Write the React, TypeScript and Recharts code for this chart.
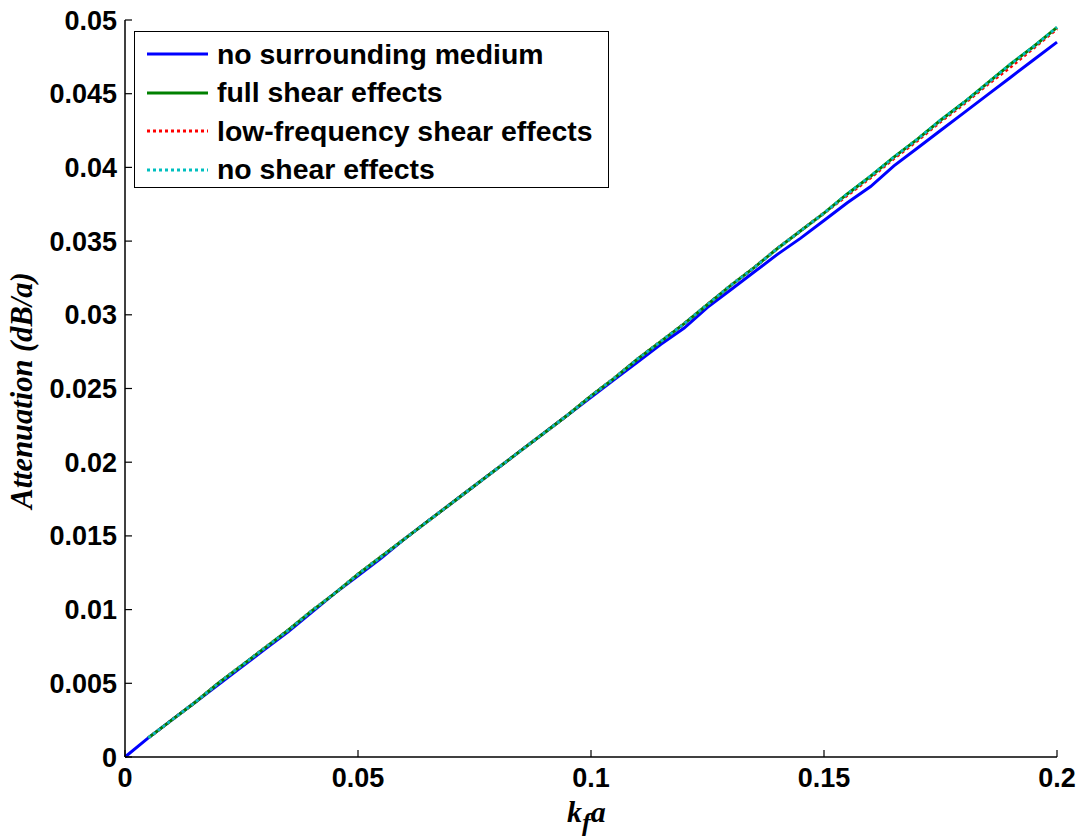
import React from 'react';
import { LineChart, Line, XAxis, YAxis, Legend } from 'recharts';

const kfa = [
  0, 0.005, 0.01, 0.015, 0.02, 0.025, 0.03, 0.035, 0.04, 0.045, 0.05,
  0.055, 0.06, 0.065, 0.07, 0.075, 0.08, 0.085, 0.09, 0.095, 0.1,
  0.105, 0.11, 0.115, 0.12, 0.125, 0.13, 0.135, 0.14, 0.145, 0.15,
  0.155, 0.16, 0.165, 0.17, 0.175, 0.18, 0.185, 0.19, 0.195, 0.2,
];

const noMedium = [
  0, 0.0013, 0.0025, 0.0037, 0.0049, 0.0061, 0.0073, 0.0085, 0.0098, 0.0111, 0.0123,
  0.0135, 0.0148, 0.016, 0.0172, 0.0184, 0.0196, 0.0208, 0.022, 0.0232, 0.0244,
  0.0256, 0.0268, 0.028, 0.0291, 0.0305, 0.0317, 0.0329, 0.0341, 0.0352, 0.0364,
  0.0376, 0.0387, 0.0401, 0.0413, 0.0425, 0.0437, 0.0449, 0.0461, 0.0473, 0.0485,
];

const fullShear = [
  null, 0.0013, 0.0025, 0.0037, 0.005, 0.0062, 0.0074, 0.0086, 0.0099, 0.0111, 0.0124,
  0.0136, 0.0148, 0.016, 0.0172, 0.0184, 0.0196, 0.0208, 0.022, 0.0232, 0.0245,
  0.0257, 0.027, 0.0282, 0.0294, 0.0307, 0.032, 0.0332, 0.0345, 0.0357, 0.0369,
  0.0382, 0.0394, 0.0407, 0.0419, 0.0432, 0.0444, 0.0457, 0.047, 0.0482, 0.0495,
];

const lowFreqShear = [
  null, 0.0013, 0.0025, 0.0037, 0.005, 0.0062, 0.0074, 0.0086, 0.0099, 0.0111, 0.0124,
  0.0136, 0.0148, 0.016, 0.0172, 0.0184, 0.0196, 0.0208, 0.022, 0.0232, 0.0245,
  0.0257, 0.027, 0.0282, 0.0294, 0.0307, 0.032, 0.0332, 0.0345, 0.0357, 0.0369,
  0.0381, 0.0393, 0.0406, 0.0418, 0.0431, 0.0443, 0.0456, 0.0468, 0.0481, 0.0494,
];

const noShear = [
  null, 0.0013, 0.0025, 0.0037, 0.005, 0.0062, 0.0074, 0.0086, 0.0099, 0.0111, 0.0124,
  0.0136, 0.0148, 0.016, 0.0172, 0.0184, 0.0196, 0.0208, 0.022, 0.0232, 0.0245,
  0.0257, 0.027, 0.0282, 0.0294, 0.0307, 0.032, 0.0332, 0.0345, 0.0357, 0.0369,
  0.0382, 0.0394, 0.0407, 0.0419, 0.0432, 0.0444, 0.0457, 0.047, 0.0482, 0.0495,
];

const xTicks = [0, 0.05, 0.1, 0.15, 0.2];
const yTicks = [0, 0.005, 0.01, 0.015, 0.02, 0.025, 0.03, 0.035, 0.04, 0.045, 0.05];

const seriesNames = [
  'no surrounding medium',
  'full shear effects',
  'low-frequency shear effects',
  'no shear effects',
];

const data = kfa.map((x, i) => ({
  x,
  noMedium: noMedium[i],
  fullShear: fullShear[i],
  lowFreqShear: lowFreqShear[i],
  noShear: noShear[i],
}));

const SANS = '"Liberation Sans", Arial, sans-serif';
const SERIF = '"Liberation Serif", "Times New Roman", serif';
const TICK = 7;

function BottomTick({ x, y, payload }: any) {
  return (
    <g>
      <line x1={x} y1={y} x2={x} y2={y - TICK} stroke="#000" strokeWidth={1.2} />
      <text x={x} y={y + 30} textAnchor="middle" fontFamily={SANS} fontWeight="bold" fontSize={27} fill="#000">
        {payload.value}
      </text>
    </g>
  );
}

function TopTick({ x, y }: any) {
  return <line x1={x} y1={y} x2={x} y2={y + TICK} stroke="#000" strokeWidth={1.2} />;
}

function LeftTick({ x, y, payload }: any) {
  return (
    <g>
      <line x1={x} y1={y} x2={x + TICK} y2={y} stroke="#000" strokeWidth={1.2} />
      <text x={x - 8} y={y + 9.5} textAnchor="end" fontFamily={SANS} fontWeight="bold" fontSize={27} fill="#000">
        {payload.value}
      </text>
    </g>
  );
}

function RightTick({ x, y }: any) {
  return <line x1={x} y1={y} x2={x - TICK} y2={y} stroke="#000" strokeWidth={1.2} />;
}

function LegendBox() {
  const rows = [
    { color: '#0000ff', dash: undefined },
    { color: '#008000', dash: undefined },
    { color: '#ff0000', dash: '3 3' },
    { color: '#00bfbf', dash: '3 3' },
  ];
  return (
    <div
      style={{
        width: 475,
        height: 157,
        border: '1.5px solid #000',
        background: '#fff',
        boxSizing: 'border-box',
        paddingTop: 3,
      }}
    >
      {rows.map((r, i) => (
        <div key={i} style={{ display: 'flex', alignItems: 'center', height: 38.5 }}>
          <svg width={82} height={20}>
            <line x1={12} y1={10} x2={73} y2={10} stroke={r.color} strokeWidth={3} strokeDasharray={r.dash} />
          </svg>
          <span style={{ fontFamily: SANS, fontWeight: 'bold', fontSize: 28.4, color: '#000', whiteSpace: 'nowrap' }}>
            {seriesNames[i]}
          </span>
        </div>
      ))}
    </div>
  );
}

function YLabel({ viewBox }: any) {
  const cy = viewBox.y + viewBox.height / 2 + 2;
  return (
    <text
      x={0}
      y={0}
      transform={`translate(32, ${cy}) rotate(-90)`}
      textAnchor="middle"
      fontFamily={SERIF}
      fontStyle="italic"
      fontWeight="bold"
      fontSize={30.5}
      fill="#000"
    >
      Attenuation (dB/a)
    </text>
  );
}

function XLabel({ viewBox }: any) {
  const cx = viewBox.x + viewBox.width / 2;
  return (
    <text x={cx - 24} y={viewBox.y + 65} fontFamily={SERIF} fontStyle="italic" fontWeight="bold" fontSize={30} fill="#000">
      k
      <tspan dy={9} fontSize={26}>f</tspan>
      <tspan dy={-9}>a</tspan>
    </text>
  );
}

export default function App() {
  return (
    <div style={{ position: 'absolute', left: 0, top: 0, width: 1081, height: 839, background: '#fff' }}>
      <LineChart width={1081} height={839} data={data} margin={{ top: 20, right: 24, bottom: 0, left: 0 }}>
        <XAxis
          xAxisId="bottom"
          dataKey="x"
          type="number"
          domain={[0, 0.2]}
          ticks={xTicks}
          height={82}
          tickSize={0}
          tickMargin={0}
          tickLine={false}
          tick={<BottomTick />}
          axisLine={{ stroke: '#000', strokeWidth: 1.5 }}
          interval={0}
          label={<XLabel />}
        />
        <XAxis
          xAxisId="top"
          orientation="top"
          dataKey="x"
          type="number"
          domain={[0, 0.2]}
          ticks={xTicks}
          height={0}
          tickSize={0}
          tickMargin={0}
          tickLine={false}
          tick={<TopTick />}
          axisLine={{ stroke: '#000', strokeWidth: 1.5 }}
          interval={0}
        />
        <YAxis
          yAxisId="left"
          type="number"
          domain={[0, 0.05]}
          ticks={yTicks}
          width={125}
          tickSize={0}
          tickMargin={0}
          tickLine={false}
          tick={<LeftTick />}
          axisLine={{ stroke: '#000', strokeWidth: 1.5 }}
          interval={0}
          label={<YLabel />}
        />
        <YAxis
          yAxisId="right"
          orientation="right"
          type="number"
          domain={[0, 0.05]}
          ticks={yTicks}
          width={0}
          tickSize={0}
          tickMargin={0}
          tickLine={false}
          tick={<RightTick />}
          axisLine={{ stroke: '#000', strokeWidth: 1.5 }}
          interval={0}
        />
        <Legend
          layout="vertical"
          align="center"
          verticalAlign="middle"
          content={<LegendBox />}
          wrapperStyle={{ left: 134, top: 31, width: 475, height: 157 }}
        />
        <Line xAxisId="bottom" yAxisId="left" type="linear" dataKey="noMedium" stroke="#0000ff" strokeWidth={3} dot={false} isAnimationActive={false} />
        <Line xAxisId="bottom" yAxisId="left" type="linear" dataKey="fullShear" stroke="#008000" strokeWidth={3} dot={false} isAnimationActive={false} />
        <Line xAxisId="bottom" yAxisId="left" type="linear" dataKey="lowFreqShear" stroke="#ff0000" strokeWidth={3} strokeDasharray="3 3" dot={false} isAnimationActive={false} />
        <Line xAxisId="bottom" yAxisId="left" type="linear" dataKey="noShear" stroke="#00bfbf" strokeWidth={3} strokeDasharray="3 3" dot={false} isAnimationActive={false} />
      </LineChart>
    </div>
  );
}
